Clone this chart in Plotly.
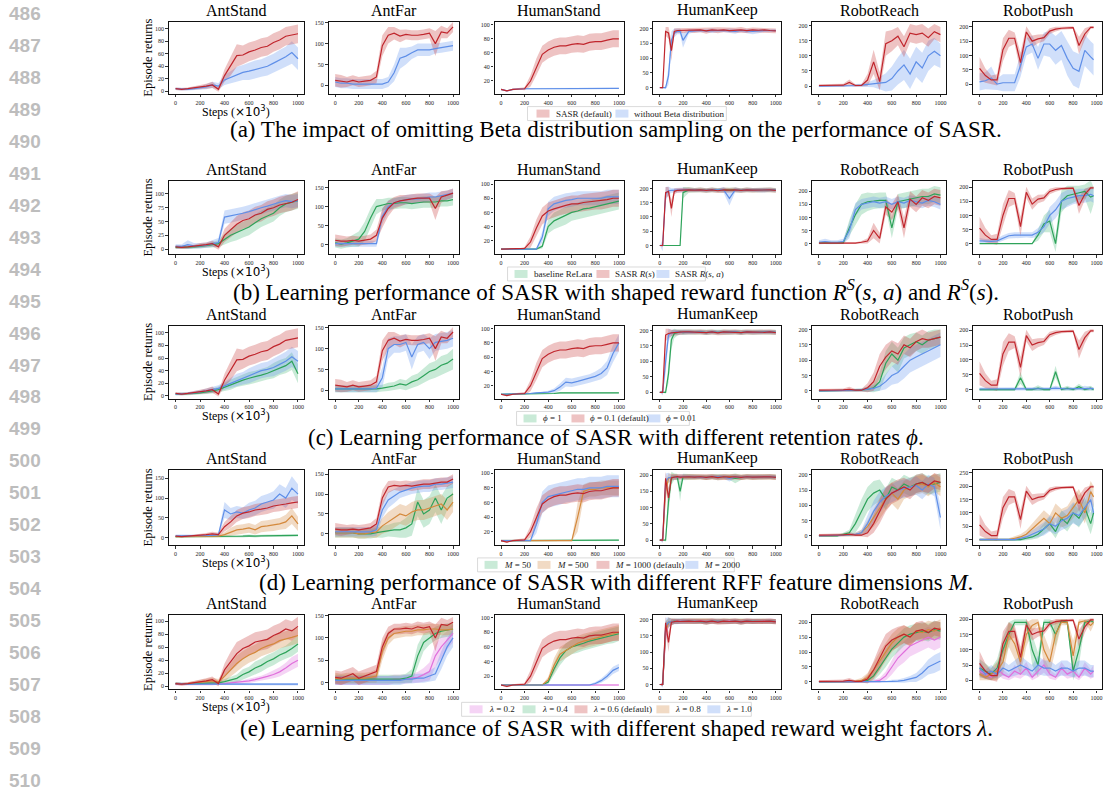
import plotly.graph_objects as go

W, H = 1111, 796
SERIF = "Liberation Serif"

# ---------------- data ----------------
X  = [0,50,100,150,200,250,300,350,400,450,500,550,600,650,700,750,800,850,900,950,1000]
XK = [0,25,50,75,100,125,150,175,200,250,300,350,400,450,500,550,600,650,700,750,800,850,900,950,1000]
XP = [0,50,100,150,200,250,300,350,400,450,500,550,600,650,700,750,800,850,900,950,975]

ENVS = ["AntStand", "AntFar", "HumanStand", "HumanKeep", "RobotReach", "RobotPush"]
X_TICKS = [0, 200, 400, 600, 800, 1000]

LEGEND_A = ["SASR (default)", "without Beta distribution"]
LEGEND_B = ["baseline ReLara", "SASR <i>R</i>(<i>s</i>)", "SASR <i>R</i>(<i>s</i>, <i>a</i>)"]
LEGEND_C = ["<i>ϕ</i> = 1", "<i>ϕ</i> = 0.1 (default)", "<i>ϕ</i> = 0.01"]
LEGEND_D = ["<i>M</i> = 50", "<i>M</i> = 500", "<i>M</i> = 1000 (default)", "<i>M</i> = 2000"]
LEGEND_E = ["<i>λ</i> = 0.2", "<i>λ</i> = 0.4", "<i>λ</i> = 0.6 (default)", "<i>λ</i> = 0.8", "<i>λ</i> = 1.0"]

CAPTIONS = [
    "(a) The impact of omitting Beta distribution sampling on the performance of SASR.",
    "(b) Learning performance of SASR with shaped reward function <i>R</i><sup><i>S</i></sup>(<i>s</i>, <i>a</i>) and <i>R</i><sup><i>S</i></sup>(<i>s</i>).",
    "(c) Learning performance of SASR with different retention rates <i>ϕ</i>.",
    "(d) Learning performance of SASR with different RFF feature dimensions <i>M</i>.",
    "(e) Learning performance of SASR with different shaped reward weight factors <i>λ</i>.",
]
LINE_NUMBERS = list(range(486, 511))

# y ranges / tick steps per row (AntStand, AntFar, HumanStand, HumanKeep, RobotReach, RobotPush)
YR_A = [(-4, 111, 20), (-20, 152, 50), (2, 104, 20), (-20, 222, 50), (-25, 212, 50), (-33, 217, 50)]
YR_B = [(-9, 123, 25), (-24, 166, 50), (1, 104, 20), (-30, 225, 50), (-40, 238, 50), (-37, 221, 50)]
YR_C = [(-4, 111, 20), (-20, 155, 50), (2, 104, 20), (-20, 215, 50), (-25, 212, 50), (-30, 215, 50)]
YR_D = [(-18, 170, 50), (-28, 160, 50), (2, 104, 20), (-15, 215, 50), (-30, 215, 50), (-20, 260, 50)]
YR_E = [(-5, 110, 20), (-15, 152, 50), (2, 104, 20), (-15, 215, 50), (-25, 225, 50), (-30, 215, 50)]

# ---- row (a): [SASR default, without Beta] ----
a_AntStand = [[4,3,4,5,6,8,10,3,25,40,57,58,63,66,70,72,78,82,88,90,92],
              [4,3,3,4,5,7,10,8,18,22,27,30,32,35,37,40,45,50,55,62,52]]
a_AntStand_sd = [[2,2,2,3,3,4,5,4,10,15,18,15,15,15,15,15,15,15,15,15,15],
                 [2,2,2,3,3,4,5,5,8,10,12,12,14,14,14,15,15,16,16,18,18]]
a_AntFar = [[12,10,8,12,8,10,12,20,95,120,125,118,122,120,120,122,125,100,128,125,140],
            [8,5,5,3,3,3,3,3,3,8,30,65,70,78,85,85,85,88,90,92,95]]
a_AntFar_sd = [[15,15,12,12,12,12,12,15,25,20,15,15,12,12,12,12,12,30,15,12,12],
               [12,12,12,12,12,12,12,12,12,12,20,25,20,15,15,15,15,12,12,12,12]]
a_HumanStand = [[8,6,8,9,9,20,40,58,64,68,70,70,72,73,72,75,76,76,78,80,80],
                [8,6,8,9,9,9,9,9,9,9,9,9,9.5,9.5,9.5,9.5,9.5,9.5,9.5,9.5,9.5]]
a_HumanStand_sd = [[1,1,1,1,2,8,12,12,12,12,12,12,12,12,12,12,12,12,12,12,12],
                   [1,1,1,1,1,1,1,1,1,1,1,1,1,1,1,1,1,1,1,1,1]]
a_HumanKeep = [[0,0,190,185,125,190,193,193,193,195,193,195,192,195,194,195,193,194,195,193,195,194,195,193,192],
               [0,0,0,40,160,185,190,190,160,190,192,193,192,193,192,193,192,190,193,192,190,192,193,192,193]]
a_HumanKeep_sd = [[0,4,15,20,35,10,8,8,8,8,8,8,10,8,10,8,8,8,10,8,8,8,8,8,8],
                  [0,0,5,30,30,15,10,10,25,8,5,5,5,8,5,5,8,8,5,8,10,8,5,5,5]]
a_RobotReach = [[2,2,2,3,3,12,2,2,20,80,15,140,150,165,130,175,170,175,160,180,170],
                [0,0,0,0,0,0,2,3,5,8,10,12,25,50,70,40,80,60,100,115,100]]
a_RobotReach_sd = [[4,4,4,4,5,10,4,4,20,40,30,40,35,30,35,30,30,30,30,25,25],
                   [3,3,3,3,3,3,5,5,8,12,20,30,40,45,50,50,50,50,50,45,40]]
a_RobotPush = [[55,30,15,15,120,160,160,75,182,150,158,162,185,192,195,196,197,135,175,198,198],
               [8,12,22,0,5,5,5,65,130,140,90,140,140,118,135,90,55,45,118,95,85]]
a_RobotPush_sd = [[40,25,15,20,40,30,20,35,20,20,15,12,10,8,5,5,5,30,20,5,5],
                  [30,30,40,20,30,30,30,40,30,30,40,40,45,50,50,60,60,60,55,55,55]]

# ---- row (b): [baseline ReLara, SASR R(s), SASR R(s,a)] ----
b_AntStand = [[3,3,3,4,5,6,8,10,18,25,30,35,40,48,55,60,65,75,82,85,88],
              [4,3,4,5,7,8,10,4,25,35,45,52,55,62,65,72,75,80,82,85,90],
              [5,5,8,6,6,7,10,12,58,60,63,65,68,72,75,78,82,85,88,86,88]]
b_AntStand_sd = [[3,3,3,3,4,4,5,6,10,12,14,14,15,15,15,15,15,15,15,15,15],
                 [3,3,3,3,4,4,5,5,12,14,15,15,15,15,15,15,15,15,15,15,15],
                 [4,4,8,5,5,5,6,8,12,12,12,12,12,12,12,12,12,12,12,12,12]]
b_AntFar = [[5,2,5,10,15,35,70,100,105,108,108,110,110,108,110,112,112,112,115,115,118],
            [12,10,10,12,10,12,15,25,70,95,110,115,118,120,122,122,122,95,125,130,135],
            [3,3,3,3,3,3,3,3,75,100,110,115,118,120,120,122,125,125,128,130,135]]
b_AntFar_sd = [[12,12,12,15,20,25,25,20,15,15,15,15,15,15,15,15,15,15,15,15,15],
               [15,15,12,12,12,12,12,15,25,20,15,15,12,12,12,12,12,30,15,12,12],
               [8,8,8,8,8,8,8,8,20,15,12,12,12,12,12,12,12,12,12,12,12]]
b_HumanStand = [[8,8,8,8,8,8,8,12,40,48,52,55,60,62,65,66,68,70,72,74,76],
                [8,8,8,8,9,18,38,55,62,65,68,70,72,72,74,75,76,76,78,80,80],
                [8,8,8,8,8,8,8,25,65,72,75,77,78,80,80,80,80,80,82,82,82]]
b_HumanStand_sd = [[1,1,1,1,1,1,1,3,10,12,12,12,12,12,12,12,12,12,12,12,12],
                   [1,1,1,1,2,8,12,12,12,12,12,12,12,12,12,12,12,12,12,12,12],
                   [1,1,1,1,1,1,1,8,10,10,10,10,10,10,10,10,10,10,10,10,10]]
b_HumanKeep = [[0,0,0,0,0,0,0,0,185,195,194,195,193,195,194,195,194,195,193,195,194,195,194,195,194],
               [0,0,185,190,130,190,193,194,195,195,194,195,193,195,192,195,194,195,193,195,194,195,194,195,193],
               [0,0,180,192,193,194,195,194,195,195,194,195,193,195,194,195,165,195,193,195,194,195,194,195,194]]
b_HumanKeep_sd = [[0,0,0,0,0,0,0,2,20,10,8,8,8,8,8,8,8,8,8,8,8,8,8,8,8],
                  [0,5,20,15,30,10,8,8,8,8,8,8,8,8,8,8,8,8,8,8,8,8,8,8,8],
                  [0,20,25,15,8,8,8,8,8,6,6,6,6,6,6,10,25,8,6,6,8,8,8,6,6]]
b_RobotReach = [[3,3,3,3,3,60,110,150,160,162,165,165,60,160,165,170,175,180,180,190,185],
                [2,2,2,2,2,2,2,5,10,50,20,140,120,160,60,170,150,175,165,180,175],
                [5,8,5,5,8,50,130,150,155,160,155,160,150,160,155,165,160,155,165,160,150]]
b_RobotReach_sd = [[5,5,5,5,5,30,40,40,35,30,30,30,40,30,30,30,30,30,30,30,30],
                   [3,3,3,3,3,3,3,5,10,30,20,30,30,30,40,30,30,30,30,30,30],
                   [8,10,8,8,10,30,25,20,20,20,20,20,20,20,20,20,20,20,20,20,20]]
b_RobotPush = [[0,0,0,0,0,0,0,0,0,0,30,70,80,0,150,170,175,180,185,165,170],
               [55,30,15,15,100,160,160,60,182,140,158,162,185,192,195,196,197,135,175,198,198],
               [10,8,8,10,20,28,30,30,32,30,40,60,100,120,150,160,165,170,170,175,170]]
b_RobotPush_sd = [[0,0,0,0,0,0,0,0,0,0,20,30,40,30,40,35,30,25,25,60,30],
                  [40,25,15,20,40,30,20,35,20,20,15,12,10,8,5,5,5,30,20,5,5],
                  [10,8,8,8,10,10,10,10,10,10,15,20,30,30,30,30,25,25,25,25,25]]

# ---- row (c): [phi=1, phi=0.1 (default), phi=0.01] ----
c_AntStand = [[3,3,3,4,5,6,8,10,14,18,22,25,28,30,33,36,40,45,48,55,35],
              [4,3,4,5,6,8,10,3,25,40,57,58,63,66,70,72,78,82,88,90,92],
              [3,3,4,5,6,8,10,12,16,20,25,28,32,36,40,42,45,50,55,62,55]]
c_AntStand_sd = [[2,2,2,2,3,3,4,5,6,8,8,9,10,10,10,10,12,12,12,14,15],
                 [2,2,2,3,3,4,5,4,10,15,18,15,15,15,15,15,15,15,15,15,15],
                 [2,2,2,3,3,4,5,5,6,8,10,10,12,12,12,12,14,14,15,16,16]]
c_AntFar = [[3,3,3,3,3,3,3,3,5,8,10,15,12,20,25,35,45,50,60,65,75],
            [12,10,8,12,8,10,12,20,95,120,125,118,122,120,120,122,125,100,128,125,140],
            [3,3,3,3,3,3,3,5,30,100,110,110,115,80,110,115,100,115,118,120,125]]
c_AntFar_sd = [[8,8,8,8,8,8,8,8,8,10,10,12,12,15,15,18,20,20,22,22,25],
               [15,15,12,12,12,12,12,15,25,20,15,15,12,12,12,12,12,30,15,12,12],
               [8,8,8,8,8,8,8,10,25,25,20,20,20,30,20,20,25,20,20,20,20]]
c_HumanStand = [[8,8,9,9,9,9,9,9,9,9,10,10,10,10,10,10,10,10,10,10,10],
                [8,6,8,9,9,20,40,58,64,68,70,70,72,73,72,75,76,76,78,80,80],
                [8,8,8,8,9,9,10,10,11,13,18,25,24,26,28,30,33,37,45,65,80]]
c_HumanStand_sd = [[1,1,1,1,1,1,1,1,1,1,1,1,1,1,1,1,1,1,1,1,1],
                   [1,1,1,1,2,8,12,12,12,12,12,12,12,12,12,12,12,12,12,12,12],
                   [1,1,1,1,1,1,1,1,2,3,5,6,6,6,6,6,7,8,10,12,12]]
c_HumanKeep = [[0,0,0,60,170,190,193,195,193,195,194,195,193,195,194,195,194,195,193,195,194,195,194,195,194],
               [0,0,185,190,192,193,194,194,195,195,194,195,193,195,192,195,194,195,193,195,194,195,194,195,193],
               [0,0,100,185,192,194,195,194,195,195,194,195,193,195,194,195,194,195,193,195,194,195,194,195,194]]
c_HumanKeep_sd = [[0,0,5,30,30,15,10,8,8,8,8,8,8,8,8,8,8,8,8,8,8,8,8,8,8],
                  [0,5,20,15,10,8,8,8,8,8,8,8,8,8,8,8,8,8,8,8,8,8,8,8,8],
                  [0,10,40,20,10,8,8,8,8,6,6,6,6,6,6,6,6,6,6,6,6,6,6,6,6]]
c_RobotReach = [[0,0,0,0,0,0,2,3,5,10,30,90,120,100,140,150,160,150,165,170,175],
                [2,2,2,3,3,5,2,2,10,30,80,110,130,120,150,140,160,170,165,170,175],
                [0,0,0,0,0,0,2,3,5,8,15,30,50,60,80,100,110,120,130,140,150]]
c_RobotReach_sd = [[3,3,3,3,3,3,5,5,8,15,30,40,40,40,35,35,30,30,30,30,25],
                   [4,4,4,4,5,8,4,4,15,30,40,40,35,35,30,30,30,30,25,25,25],
                   [3,3,3,3,3,3,5,5,8,10,15,25,30,35,40,40,40,40,40,40,40]]
c_RobotPush = [[0,0,0,0,0,0,0,40,0,0,5,0,0,60,0,5,0,10,0,5,0],
               [55,30,15,15,120,160,160,75,182,150,158,162,185,192,195,196,197,135,175,198,198],
               [2,2,2,2,3,3,2,2,3,3,2,2,3,5,3,2,3,3,5,3,3]]
c_RobotPush_sd = [[5,5,5,5,5,5,5,20,5,5,10,5,5,20,5,8,5,10,5,8,5],
                  [40,25,15,20,40,30,20,35,20,20,15,12,10,8,5,5,5,30,20,5,5],
                  [5,5,5,5,5,5,5,5,5,5,5,5,5,8,5,5,5,5,8,5,5]]

# ---- row (d): [M=50, M=500, M=1000 (default), M=2000] ----
d_AntStand = [[3,3,3,3,3,3,3,3,3,3,3,4,5,4,5,5,5,6,6,6,6],
              [3,3,3,3,3,3,3,4,8,15,20,22,25,20,28,30,32,35,40,55,35],
              [4,3,4,5,6,8,10,8,28,40,55,62,65,70,72,75,80,82,85,88,90],
              [5,5,5,5,5,5,6,8,70,60,65,62,70,75,85,90,95,110,100,125,110]]
d_AntStand_sd = [[2,2,2,2,2,2,2,2,2,2,2,3,3,3,3,3,3,3,3,3,3],
                 [2,2,2,2,2,2,2,3,6,10,12,12,12,12,14,14,15,15,18,20,18],
                 [2,2,2,3,3,4,5,5,12,14,15,15,15,15,15,15,15,15,15,15,15],
                 [3,3,3,3,3,3,4,5,20,15,15,15,18,18,20,20,22,25,25,30,25]]
d_AntFar = [[3,3,3,3,0,0,0,3,5,8,10,10,15,25,80,50,60,90,60,90,100],
            [3,3,3,3,0,0,3,5,20,30,40,50,45,55,60,60,65,70,75,60,80],
            [12,10,10,12,10,12,15,25,90,118,122,120,122,120,122,125,125,128,130,130,138],
            [5,5,5,5,5,5,5,10,60,85,95,105,110,115,118,120,120,125,125,128,130]]
d_AntFar_sd = [[12,12,12,12,12,12,12,12,15,15,18,20,25,30,35,35,35,35,35,30,30],
               [12,12,12,12,12,12,12,15,20,25,25,25,25,25,25,25,25,25,25,25,25],
               [15,15,12,12,12,12,12,15,20,15,12,12,12,12,12,12,12,12,12,12,12],
               [12,12,12,12,12,12,12,15,20,20,18,15,15,15,15,15,15,15,15,15,15]]
d_HumanStand = [[8,8,8,8,8,8,8,8,8,8,8.5,8.5,8.5,8.5,8.5,8.5,8.5,8.5,8.5,8.5,8.5],
                [8,8,8,8,8,8,8,8,8,8,8,8,8,40,75,78,78,80,80,80,80],
                [8,6,8,9,9,20,40,58,64,68,70,70,72,73,72,75,76,76,78,80,80],
                [8,8,8,8,8,8,30,60,68,70,72,75,76,78,78,80,80,80,82,82,82]]
d_HumanStand_sd = [[1,1,1,1,1,1,1,1,1,1,1,1,1,1,1,1,1,1,1,1,1],
                   [1,1,1,1,1,1,1,1,1,1,1,1,1,20,10,10,10,10,10,10,10],
                   [1,1,1,1,2,8,12,12,12,12,12,12,12,12,12,12,12,12,12,12,12],
                   [1,1,1,1,1,1,12,15,15,15,15,15,15,15,15,15,15,15,15,15,15]]
d_HumanKeep = [[0,0,0,120,190,195,194,150,194,195,194,195,193,195,194,195,194,190,193,195,194,195,194,195,194],
               [0,0,150,190,194,195,194,195,194,195,194,195,193,195,194,195,194,195,193,195,194,195,194,195,194],
               [0,0,190,130,192,194,195,194,195,195,194,195,193,195,192,195,194,195,193,195,194,195,194,195,193],
               [0,0,180,192,193,194,195,194,195,195,194,195,193,195,194,195,190,195,193,195,194,195,194,195,194]]
d_HumanKeep_sd = [[0,0,5,40,20,10,10,30,10,8,8,8,8,8,10,8,8,15,8,8,8,8,8,8,8],
                  [0,5,30,15,10,8,8,8,8,8,8,8,8,8,8,8,8,8,8,8,8,8,8,8,8],
                  [0,5,20,30,10,8,8,8,8,8,8,8,8,8,8,8,8,8,8,8,8,8,8,8,8],
                  [0,10,25,15,8,8,8,8,8,6,6,6,6,6,6,6,10,6,6,6,6,6,6,6,6]]
d_RobotReach = [[0,0,0,0,5,10,40,80,120,140,150,120,160,150,170,160,170,175,165,170,175],
                [0,0,0,0,0,2,5,10,30,60,90,120,140,120,150,160,165,170,160,175,160],
                [2,2,2,3,3,5,2,2,10,40,80,120,140,150,160,150,170,175,165,180,175],
                [0,0,0,0,2,3,5,10,40,80,110,130,140,150,155,160,165,150,170,160,60]]
d_RobotReach_sd = [[3,3,3,3,5,10,30,40,40,40,35,35,30,30,30,30,30,30,30,30,30],
                   [3,3,3,3,3,3,5,10,20,30,35,35,35,35,30,30,30,30,30,30,30],
                   [4,4,4,4,5,8,4,4,15,30,40,40,35,35,30,30,30,30,25,25,25],
                   [3,3,3,3,3,5,5,10,25,35,35,30,30,30,30,30,30,30,30,30,40]]
d_RobotPush = [[0,0,0,0,0,0,0,0,5,10,20,40,60,30,80,60,100,80,120,60,100],
               [0,0,0,0,0,0,5,10,20,40,60,80,60,100,80,90,120,150,100,180,160],
               [55,30,15,15,120,160,160,75,182,150,158,162,185,192,195,196,197,135,175,198,198],
               [0,0,0,0,0,0,0,5,10,20,30,40,60,50,70,80,100,90,120,150,100]]
d_RobotPush_sd = [[5,5,5,5,5,5,5,5,8,10,15,20,25,25,30,30,35,35,40,40,40],
                  [5,5,5,5,5,5,8,10,15,20,25,30,30,35,35,35,40,40,40,40,40],
                  [40,25,15,20,40,30,20,35,20,20,15,12,10,8,5,5,5,30,20,5,5],
                  [5,5,5,5,5,5,5,8,10,15,20,25,30,30,35,35,40,40,40,40,40]]

# ---- row (e): [lambda=0.2, 0.4, 0.6 (default), 0.8, 1.0] ----
e_AntStand = [[3,3,3,3,3,3,3,4,4,5,6,6,8,10,12,15,18,22,28,35,40],
              [4,3,3,4,4,5,5,5,7,10,12,18,22,28,32,38,42,48,52,58,65],
              [4,3,4,5,6,8,10,4,25,38,50,58,62,68,70,72,78,82,88,85,92],
              [4,3,4,5,6,7,8,7,15,25,35,42,48,52,58,62,65,70,72,75,78],
              [4,3,3,3,3,3,3,3,3,3,3,3,3,3,3,3,3,3,3,3,3]]
e_AntStand_sd = [[2,2,2,2,2,2,2,2,2,2,3,3,3,4,4,5,6,7,8,10,10],
                 [2,2,2,2,2,3,3,3,4,5,6,8,8,10,10,10,10,10,10,12,12],
                 [2,2,2,3,3,4,5,4,10,15,18,15,15,15,15,15,15,15,15,15,15],
                 [2,2,2,3,3,4,5,4,8,10,12,12,12,12,12,12,12,12,12,12,12],
                 [2,2,2,2,2,2,2,2,2,2,2,2,2,2,2,2,2,2,2,2,2]]
e_AntFar = [[5,5,5,5,5,5,5,5,5,5,8,8,8,10,12,18,25,60,80,95,110],
            [8,8,8,8,8,8,8,8,8,8,8,8,10,15,60,90,100,110,115,118,120],
            [12,10,15,20,10,15,20,25,80,110,120,120,122,120,125,122,125,100,130,128,135],
            [10,8,10,10,10,10,12,15,70,100,110,112,115,115,118,118,120,120,118,118,120],
            [5,5,5,5,5,5,5,5,5,5,5,5,8,8,10,10,15,20,50,80,100]]
e_AntFar_sd = [[10,10,10,10,10,10,10,10,10,10,10,10,10,10,12,15,20,25,25,20,20],
               [10,10,10,10,10,10,10,10,10,10,10,10,10,15,25,20,15,15,15,15,15],
               [15,15,15,15,15,15,15,15,20,15,12,12,12,12,12,12,12,30,15,12,12],
               [12,12,12,12,12,12,12,15,20,15,12,12,12,12,12,12,12,12,12,12,12],
               [10,10,10,10,10,10,10,10,10,10,10,10,10,10,10,10,12,15,20,20,20]]
e_HumanStand = [[8,8,8,8,8,8,8,8,8,8,8,8,8,8,8,8,8,8,8,8,8],
                [8,8,8,8,8,8,8,8,12,30,45,55,60,62,65,68,70,72,74,75,78],
                [8,6,8,9,9,20,40,58,64,68,70,70,72,73,72,75,76,76,78,80,80],
                [8,8,8,8,8,8,8,8,15,35,50,55,60,65,68,70,72,75,76,78,80],
                [8,8,8,8,8,8,8,8,8,8,8,8,8,8,8,8,10,14,20,28,32]]
e_HumanStand_sd = [[1,1,1,1,1,1,1,1,1,1,1,1,1,1,1,1,1,1,1,1,1],
                   [1,1,1,1,1,1,1,1,3,8,10,10,10,10,10,10,10,10,10,10,10],
                   [1,1,1,1,2,8,12,12,12,12,12,12,12,12,12,12,12,12,12,12,12],
                   [1,1,1,1,1,1,1,1,4,10,10,10,10,10,10,10,10,10,10,10,10],
                   [1,1,1,1,1,1,1,1,1,1,1,1,1,1,1,1,2,3,4,5,5]]
e_HumanKeep = [[0,0,150,190,194,195,194,195,194,195,194,195,193,195,194,195,194,195,193,195,194,195,194,195,194],
               [0,0,170,190,193,195,194,195,194,195,194,195,193,195,194,195,194,195,193,195,194,195,194,195,194],
               [0,0,190,130,192,194,195,194,195,195,194,195,193,195,192,195,194,195,193,195,194,195,194,195,193],
               [0,0,160,192,193,194,195,194,195,195,194,195,193,195,194,195,194,195,193,195,194,195,194,195,194],
               [0,0,180,192,193,194,195,194,195,195,194,195,193,195,194,195,194,195,193,195,194,195,194,195,194]]
e_HumanKeep_sd = [[0,5,30,15,10,8,8,8,8,8,8,8,8,8,8,8,8,8,8,8,8,8,8,8,8],
                  [0,5,25,15,10,8,8,8,8,8,8,8,8,8,8,8,8,8,8,8,8,8,8,8,8],
                  [0,5,20,30,10,8,8,8,8,8,8,8,8,8,8,8,8,8,8,8,8,8,8,8,8],
                  [0,5,30,15,10,8,8,8,8,8,8,8,8,8,8,8,8,8,8,8,8,8,8,8,8],
                  [0,10,25,15,8,8,8,8,8,6,6,6,6,6,6,6,6,6,6,6,6,6,6,6,6]]
e_RobotReach = [[0,0,0,0,0,0,0,0,0,2,5,20,50,80,100,120,130,140,150,140,150],
                [0,0,0,0,0,0,0,2,5,20,50,80,110,130,150,160,165,170,165,175,170],
                [2,2,2,3,3,5,2,2,10,40,80,120,140,150,160,150,170,175,165,180,175],
                [0,0,0,0,0,0,2,5,15,40,70,100,130,150,160,150,170,165,175,170,180],
                [0,0,0,0,0,0,0,0,0,0,0,0,2,3,5,10,15,30,50,60,70]]
e_RobotReach_sd = [[3,3,3,3,3,3,3,3,3,5,8,15,25,30,35,35,35,35,35,35,35],
                   [3,3,3,3,3,3,3,5,8,15,25,30,30,30,30,30,30,30,30,30,30],
                   [4,4,4,4,5,8,4,4,15,30,40,40,35,35,30,30,30,30,25,25,25],
                   [3,3,3,3,3,3,5,8,15,25,30,30,30,30,30,30,30,30,30,30,30],
                   [3,3,3,3,3,3,3,3,3,3,3,3,5,5,8,10,15,20,25,30,30]]
e_RobotPush = [[30,20,10,40,20,10,30,20,40,10,30,50,20,10,40,20,30,10,40,20,30],
               [40,30,20,40,100,150,190,190,190,100,50,190,190,150,195,190,30,100,190,195,190],
               [55,30,15,15,120,160,160,75,182,150,158,162,185,192,195,196,197,135,175,198,198],
               [20,10,20,30,60,150,120,60,150,180,190,100,60,150,190,190,80,190,195,180,190],
               [40,20,30,20,40,30,40,50,40,30,50,40,40,30,40,40,30,40,40,30,30]]
e_RobotPush_sd = [[20,15,10,20,15,10,20,15,20,10,20,25,15,10,20,15,20,10,20,15,20],
                  [30,25,20,30,40,40,10,10,10,50,40,10,10,40,5,10,30,50,10,5,10],
                  [40,25,15,20,40,30,20,35,20,20,15,12,10,8,5,5,5,30,20,5,5],
                  [20,10,20,30,40,40,50,40,40,20,10,50,40,50,10,10,50,10,5,20,10],
                  [25,15,20,15,25,20,25,30,25,20,30,25,25,20,25,25,20,25,25,20,20]]

# ---------------- styling / layout ----------------
COLOR = {"red": "#c0262d", "blue": "#5f8fe8", "green": "#2ea35a", "orange": "#d4893c", "pink": "#e070dc"}
BAND = {"red": "rgba(200,55,55,0.30)", "blue": "rgba(100,149,237,0.30)", "green": "rgba(60,179,113,0.28)",
        "orange": "rgba(210,140,70,0.32)", "pink": "rgba(225,120,225,0.32)"}

ROWS = ["a", "b", "c", "d", "e"]
ROW_COLORS = {"a": ["red", "blue"], "b": ["green", "red", "blue"], "c": ["green", "red", "blue"],
              "d": ["green", "orange", "red", "blue"], "e": ["pink", "green", "red", "orange", "blue"]}
ROW_LEGEND = {"a": LEGEND_A, "b": LEGEND_B, "c": LEGEND_C, "d": LEGEND_D, "e": LEGEND_E}
ROW_YR = {"a": YR_A, "b": YR_B, "c": YR_C, "d": YR_D, "e": YR_E}

COL_PX = [(169, 304), (329, 459), (495, 625), (654, 782), (813, 947), (974, 1103)]
ROW_PX = [(20, 92), (180, 253), (325, 398), (470, 545), (615, 690)]
CAPTION_Y = [128, 290, 437, 583, 729]
LEG_GEOM = {
    "a": dict(x0=528, x1=727, patch=[537, 616], text=[554, 633]),
    "b": dict(x0=508, x1=706, patch=[515, 597, 657], text=[532, 614, 674]),
    "c": dict(x0=517, x1=690, patch=[524, 572, 648], text=[541, 589, 665]),
    "d": dict(x0=478, x1=735, patch=[485, 538, 597, 686], text=[502, 555, 614, 703]),
    "e": dict(x0=462, x1=752, patch=[470, 523, 575, 657, 708], text=[487, 540, 592, 674, 725]),
}


def px(x):
    return x / W


def py(y):
    return 1 - y / H


def note(x, y, text, size, family=SERIF, color="black", xanchor="center", yanchor="middle", angle=0):
    return dict(x=px(x), y=py(y), xref="paper", yref="paper", text=text, showarrow=False,
                xanchor=xanchor, yanchor=yanchor, textangle=angle,
                font=dict(family=family, size=size, color=color))


fig = go.Figure()
layout = dict(width=W, height=H, margin=dict(l=0, r=0, t=0, b=0), showlegend=False,
              paper_bgcolor="white", plot_bgcolor="white")
annotations = []
shapes = []

k = 0
for r, row in enumerate(ROWS):
    y0, y1 = ROW_PX[r]
    colors = ROW_COLORS[row]
    order = [i for i, c in enumerate(colors) if c != "red"] + [i for i, c in enumerate(colors) if c == "red"]
    for c, env in enumerate(ENVS):
        k += 1
        x0, x1 = COL_PX[c]
        xa = "x" if k == 1 else f"x{k}"
        ya = "y" if k == 1 else f"y{k}"
        means = globals()[f"{row}_{env}"]
        sds = globals()[f"{row}_{env}_sd"]
        xs = XK if env == "HumanKeep" else (XP if env == "RobotPush" else X)
        for i in order:
            m, s = means[i], sds[i]
            n = min(len(xs), len(m), len(s))
            up = [m[j] + s[j] for j in range(n)]
            lo = [m[j] - s[j] for j in range(n)]
            fig.add_trace(go.Scatter(x=xs[:n] + xs[:n][::-1], y=up + lo[::-1], fill="toself",
                                     fillcolor=BAND[colors[i]], line=dict(width=0), mode="lines",
                                     hoverinfo="skip", xaxis=xa, yaxis=ya))
        for i in order:
            m = means[i]
            n = min(len(xs), len(m))
            fig.add_trace(go.Scatter(x=xs[:n], y=m[:n], mode="lines",
                                     line=dict(color=COLOR[colors[i]], width=1.2),
                                     name=ROW_LEGEND[row][i], xaxis=xa, yaxis=ya))
        lo_r, hi_r, dt = ROW_YR[row][c]
        axis_common = dict(showline=True, mirror=True, linecolor="#111", linewidth=1.3, showgrid=False,
                           zeroline=False, ticks="outside", ticklen=2.5, tickwidth=0.7, tickcolor="#333",
                           tickfont=dict(family=SERIF, size=6, color="#222"))
        layout["xaxis" if k == 1 else f"xaxis{k}"] = dict(
            domain=[px(x0), px(x1)], anchor=ya, range=[-55, 1047], tickvals=X_TICKS, **axis_common)
        layout["yaxis" if k == 1 else f"yaxis{k}"] = dict(
            domain=[py(y1), py(y0)], anchor=xa, range=[lo_r, hi_r], dtick=dt, tick0=0, **axis_common)
        annotations.append(note((x0 + x1) / 2, y0 - 1, env, 16, yanchor="bottom"))
    # row labels
    annotations.append(note(148, (y0 + y1) / 2, "Episode returns", 12.5, angle=-90))
    annotations.append(note((COL_PX[0][0] + COL_PX[0][1]) / 2, y1 + 17,
                            "Steps (<span style='font-family:DejaVu Sans'>×10<sup>3</sup></span>)", 12))
    annotations.append(note(617, CAPTION_Y[r], CAPTIONS[r], 23))
    # legend
    g = LEG_GEOM[row]
    ly = y1 + 20
    shapes.append(dict(type="rect", xref="paper", yref="paper", x0=px(g["x0"]), x1=px(g["x1"]),
                       y0=py(ly + 7), y1=py(ly - 7), line=dict(color="#d0d0d0", width=0.8),
                       fillcolor="rgba(255,255,255,0.9)"))
    for i, lab in enumerate(ROW_LEGEND[row]):
        pxx = g["patch"][i]
        shapes.append(dict(type="rect", xref="paper", yref="paper", x0=px(pxx), x1=px(pxx + 13),
                           y0=py(ly + 4), y1=py(ly - 4), line=dict(width=0),
                           fillcolor=BAND[colors[i]]))
        annotations.append(note(g["text"][i], ly, lab, 9, color="#222", xanchor="left"))

for i, num in enumerate(LINE_NUMBERS):
    annotations.append(note(25, 12 + 32.04 * i, f"<b>{num}</b>", 19, family="Liberation Sans", color="#bdbdbd"))

layout["annotations"] = annotations
layout["shapes"] = shapes
fig.update_layout(**layout)
fig.write_html("out.html", config={"displayModeBar": False},
               post_script="document.body.style.margin='0';document.body.style.padding='0';")
